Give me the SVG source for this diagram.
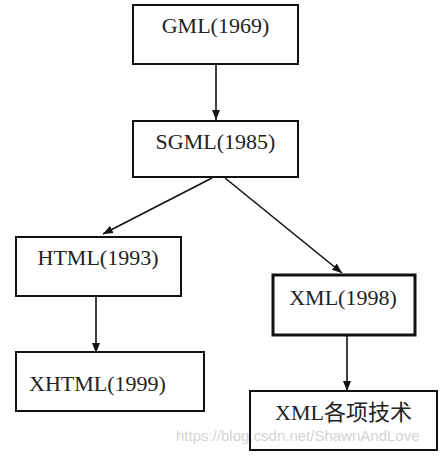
<svg xmlns="http://www.w3.org/2000/svg" width="443" height="456" viewBox="0 0 443 456">
<style>
.box{fill:#fff;stroke:#111;stroke-width:2}
.t{font-family:"Liberation Serif","Noto Sans CJK SC",serif;font-size:22px;fill:#222}
.c{stroke:#111;stroke-width:1.6;fill:none}
.wm{font-family:"Liberation Sans",sans-serif;font-size:15px;fill:#d4d4d4}
</style>
<defs>
<marker id="ah" markerWidth="10" markerHeight="10" viewBox="0 0 10 10" refX="10" refY="5" orient="auto" markerUnits="userSpaceOnUse">
<path d="M0,1 L10,5 L0,9 Z" fill="#111"/>
</marker>
</defs>
<rect width="443" height="456" fill="#fff"/>
<g id="connectors">
<line class="c" x1="216" y1="64" x2="216" y2="120" marker-end="url(#ah)"/>
<line class="c" x1="212" y1="178" x2="103" y2="234" marker-end="url(#ah)"/>
<line class="c" x1="225" y1="178" x2="342" y2="273" marker-end="url(#ah)"/>
<line class="c" x1="96" y1="296" x2="96" y2="353" marker-end="url(#ah)"/>
<line class="c" x1="347" y1="335" x2="347" y2="391" marker-end="url(#ah)"/>
</g>
<g id="gml"><rect class="box" x="133" y="5" width="165" height="59"/><text class="t" x="215.5" y="33" text-anchor="middle">GML(1969)</text></g>
<g id="sgml"><rect class="box" x="133" y="121" width="165" height="56"/><text class="t" x="215.5" y="149" text-anchor="middle">SGML(1985)</text></g>
<g id="html"><rect class="box" x="16" y="237" width="165" height="59"/><text class="t" x="98" y="265" text-anchor="middle">HTML(1993)</text></g>
<g id="xml"><rect class="box" x="273" y="275" width="142" height="60" style="stroke-width:3"/><text class="t" x="343" y="305" text-anchor="middle">XML(1998)</text></g>
<g id="xhtml"><rect class="box" x="16" y="352" width="188" height="59"/><text class="t" x="29" y="391">XHTML(1999)</text></g>
<g id="xmltech"><rect class="box" x="250" y="391" width="187" height="59"/><text class="t" x="343.5" y="420" text-anchor="middle">XML各项技术</text></g>
<text class="wm" x="176" y="441">https://blog.csdn.net/ShawnAndLove</text>
</svg>
